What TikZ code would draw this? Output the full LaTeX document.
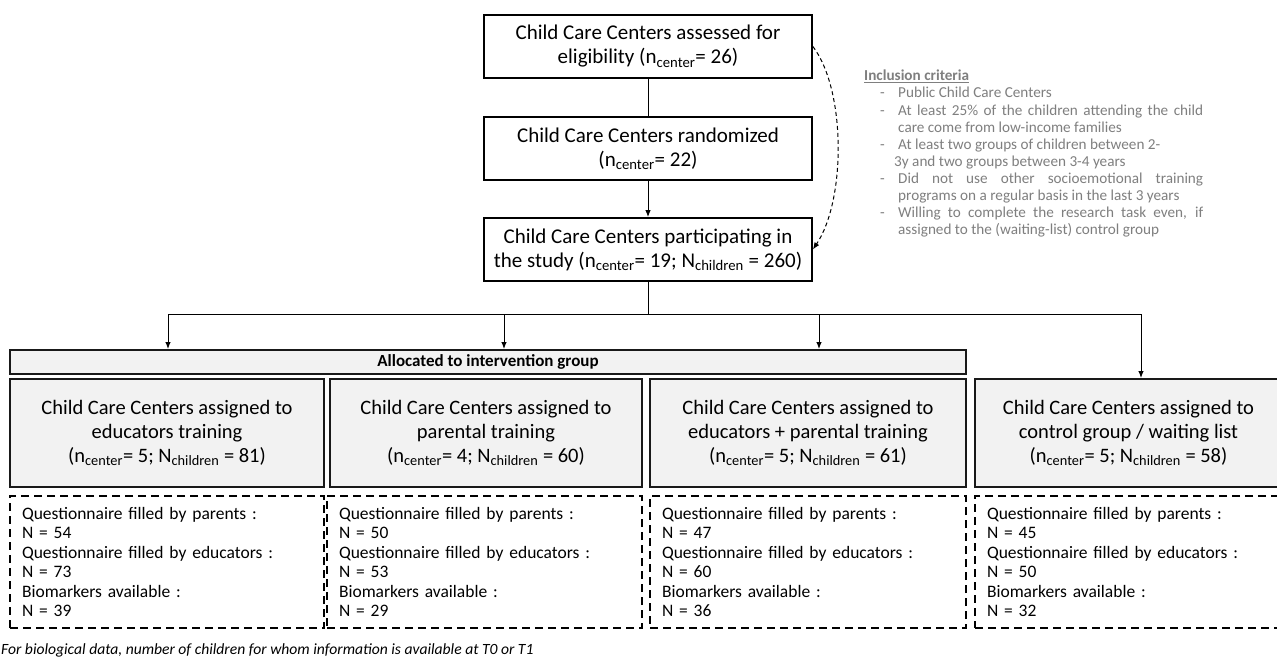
\documentclass[tikz,border=0pt]{standalone}
\usepackage{fontspec}
\setmainfont{Carlito}
\usetikzlibrary{arrows.meta}
\definecolor{boxfill}{HTML}{F2F2F2}
\definecolor{incgray}{HTML}{7F7F7F}
\newcommand\incitem[2][34pt]{\par\hangindent=#1\hangafter=1\noindent\makebox[34pt][l]{\hspace{16pt}-}#2}
\begin{document}
\begin{tikzpicture}[x=1pt,y=-1pt,
  mainbox/.style={draw, line width=1.8pt, fill=white, minimum width=328pt, minimum height=63pt,
    align=center, inner sep=0pt, font=\fontsize{21}{24}\selectfont},
  grpbox/.style={draw=black!90, line width=2pt, fill=boxfill, minimum height=108pt,
    align=center, inner sep=0pt, font=\fontsize{20.5}{24}\selectfont},
  allocbox/.style={draw=black!90, line width=2pt, fill=boxfill, minimum height=24pt,
    inner sep=0pt, font=\bfseries\fontsize{17}{18}\selectfont},
  databox/.style={draw, line width=1.8pt, dash pattern=on 8pt off 5pt, minimum height=132pt,
    inner xsep=12pt, inner ysep=0pt, align=left, font=\fontsize{17.5}{19.5}\selectfont},
  arr/.style={-{Latex[length=7pt,width=5.5pt]}, line width=1pt},
  conn/.style={line width=1pt}]
\useasboundingbox[fill=white] (0,0) rectangle (1277,656);

% top flow
\node[mainbox] (elig) at (648,46.5) {Child Care Centers assessed for\\eligibility (n\textsubscript{center}= 26)};
\node[mainbox] (rand) at (648,148.5) {Child Care Centers randomized\\(n\textsubscript{center}= 22)};
\node[mainbox] (part) at (648,249.5) {Child Care Centers participating in\\the study (n\textsubscript{center}= 19; N\textsubscript{children} = 260)};
\draw[conn] (elig) -- (rand);
\draw[arr] (rand) -- (part);
\draw[arr, dash pattern=on 4pt off 3pt] (elig.east) .. controls (846,90) and (846,200) .. (part.east);

% inclusion criteria
\node[anchor=north west, text width=339pt, inner sep=0pt, text=incgray, align=justify,
  font=\fontsize{15.2}{17.1}\selectfont] (crit) at (864,70) {%
  \noindent{\bfseries\underline{Inclusion criteria}}
  \incitem{Public Child Care Centers}
  \incitem{At least 25\% of the children attending the child\linebreak care come from low-income families}
  \incitem[30pt]{At least two groups of children between 2-\newline 3y and two groups between 3-4 years}
  \incitem{Did not use other socioemotional training\linebreak programs on a regular basis in the last 3 years}
  \incitem{Willing to complete the research task even, if\linebreak assigned to the (waiting-list) control group}\par};

% allocation
\node[allocbox, minimum width=956pt] (alloc) at (488,362) {Allocated to intervention group};

\node[grpbox, minimum width=314pt] (g1) at (167,433) {Child Care Centers assigned to\\educators training\\(n\textsubscript{center}= 5; N\textsubscript{children} = 81)};
\node[grpbox, minimum width=312pt] (g2) at (486,433) {Child Care Centers assigned to\\parental training\\(n\textsubscript{center}= 4; N\textsubscript{children} = 60)};
\node[grpbox, minimum width=316pt] (g3) at (808,433) {Child Care Centers assigned to\\educators + parental training\\(n\textsubscript{center}= 5; N\textsubscript{children} = 61)};
\node[grpbox, minimum width=307pt] (g4) at (1128.5,433) {Child Care Centers assigned to\\control group / waiting list\\(n\textsubscript{center}= 5; N\textsubscript{children} = 58)};

% connectors
\coordinate (j) at (648,314);
\coordinate (a1) at (168,314);
\coordinate (a2) at (504,314);
\coordinate (a3) at (819,314);
\coordinate (a4) at (1141,314);
\draw[conn] (part) -- (j);
\draw[conn] (a1) -- (a4);
\draw[arr] (a1) -- (a1 |- alloc.north);
\draw[arr] (a2) -- (a2 |- alloc.north);
\draw[arr] (a3) -- (a3 |- alloc.north);
\draw[arr] (a4) -- (a4 |- g4.north);

% data boxes
\node[databox, text width=290pt] (d1) at (167,562) {Questionnaire filled by parents :\\N = 54\\Questionnaire filled by educators :\\N = 73\\Biomarkers available :\\N = 39};
\node[databox, text width=291pt] (d2) at (484.5,562) {Questionnaire filled by parents :\\N = 50\\Questionnaire filled by educators :\\N = 53\\Biomarkers available :\\N = 29};
\node[databox, text width=292pt] (d3) at (808,562) {Questionnaire filled by parents :\\N = 47\\Questionnaire filled by educators :\\N = 60\\Biomarkers available :\\N = 36};
\node[databox, text width=283pt] (d4) at (1128.5,562) {Questionnaire filled by parents :\\N = 45\\Questionnaire filled by educators :\\N = 50\\Biomarkers available :\\N = 32};

% footnote
\node[anchor=base west, inner sep=0pt, font=\itshape\fontsize{15.6}{17}\selectfont] (foot) at (1,654.5) {For biological data, number of children for whom information is available at T0 or T1};
\end{tikzpicture}
\end{document}
